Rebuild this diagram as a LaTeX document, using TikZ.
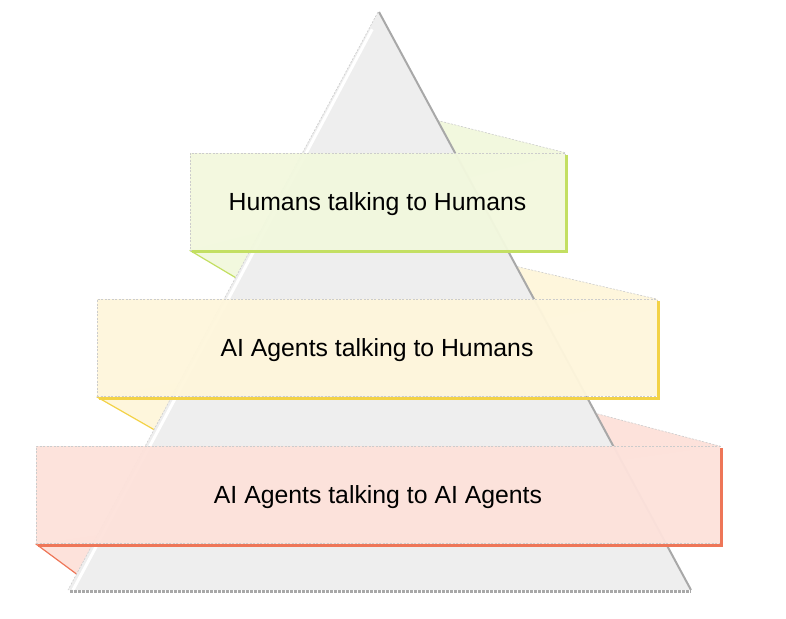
\documentclass[tikz,border=0pt]{standalone}
\usepackage{fontspec}
\setmainfont{Liberation Sans}
\usetikzlibrary{calc}
\definecolor{pyrfill}{HTML}{EEEEEE}
\definecolor{pyredge}{HTML}{A8A8A8}
\definecolor{grnfill}{HTML}{F2F8DE}
\definecolor{grnedge}{HTML}{C3DF62}
\definecolor{yelfill}{HTML}{FEF6DC}
\definecolor{yeledge}{HTML}{F3D246}
\definecolor{redfill}{HTML}{FDE2DB}
\definecolor{rededge}{HTML}{EE7658}
\pgfdeclarelayer{folds}
\pgfdeclarelayer{pyramid}
\pgfsetlayers{folds,pyramid,main}
\tikzset{
	band/.style={draw=gray!40, dash pattern=on 2pt off 1.5pt, line width=0.6pt,
		minimum height=97pt, inner sep=0pt, fill opacity=0.96, text opacity=1,
		text depth=0pt, font=\fontsize{24.8}{29}\selectfont},
	foldline/.style={draw=gray!40, dash pattern=on 2pt off 1.5pt, line width=0.6pt},
}
\begin{document}
\begin{tikzpicture}[x=1pt, y=1pt]
		\useasboundingbox (0,0) rectangle (786,618);
		% hidden corners of the folds
		\coordinate (top-lo) at (300,302);
		\coordinate (top-hi) at (400,507);
		\coordinate (mid-lo) at (200,162);
		\coordinate (mid-hi) at (480,360);
		\coordinate (bot-lo) at (90,34);
		\coordinate (bot-hi) at (560,214);
		% pyramid
		\coordinate (apex) at (378,606);
		\coordinate (left) at (68,28);
		\coordinate (right) at (690,28);
		\begin{pgfonlayer}{pyramid}
			\fill[pyrfill] (apex) -- (left) -- (right) -- cycle;
			\draw[white, line width=3pt] ($(apex)!0.03!(left)+(3.5,0)$) -- ($(left)+(5,0)$);
			\draw[foldline] (apex) -- (left);
			\draw[pyredge, line width=2pt] ([xshift=1pt]apex) -- ([xshift=1pt]right);
			\draw[pyredge, line width=3pt, dash pattern=on 3pt off 1pt] ([shift={(2,-1.5)}]left) -- ([shift={(1,-1.5)}]right);
		\end{pgfonlayer}
		% bands
		\foreach \name/\cx/\cy/\w/\col/\edge/\txt in {
			top/377.5/416.5/375/grnfill/grnedge/Humans talking to Humans,
			mid/377/270/560/yelfill/yeledge/AI Agents talking to Humans,
			bot/378/123/684/redfill/rededge/AI Agents talking to AI Agents}{
			\node[band, fill=\col, minimum width=\w pt] (\name) at (\cx,\cy) {\txt};
			\draw[\edge, line width=3pt] ([shift={(1.5,-2)}]\name.north east) -- ([shift={(1.5,-1.5)}]\name.south east) -- ([shift={(2,-1.5)}]\name.south west);
			\begin{pgfonlayer}{folds}
				\fill[\col] (\name.south west) -- (\name-lo) -- (\name-hi) -- (\name.north east) -- cycle;
				\draw[\edge, line width=1.2pt] (\name.south west) -- (\name-lo);
				\draw[foldline] (\name-hi) -- (\name.north east);
			\end{pgfonlayer}
		}
\end{tikzpicture}
\end{document}
